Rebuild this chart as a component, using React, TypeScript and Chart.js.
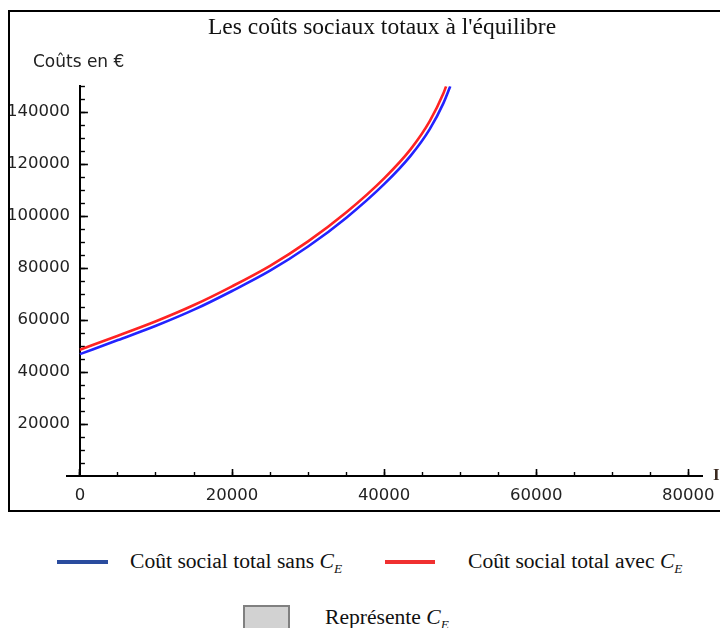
import React, { useEffect, useRef } from 'react';
import { Chart, registerables } from 'chart.js';

Chart.register(...registerables);

// ---- data ----
const TITLE = "Les coûts sociaux totaux à l'équilibre";
const Y_TITLE = 'Coûts en €';
const X_TITLE = 'I';

const sansX = [0, 5000, 10000, 15000, 20000, 25000, 30000, 35000, 40000, 43500, 46000, 47800, 48700];
const sansY = [46900, 52300, 57800, 64000, 71200, 79000, 88300, 99300, 112300, 123300, 133500, 143500, 150000];

const avecX = [0, 5000, 10000, 15000, 20000, 25000, 30000, 35000, 40000, 43500, 46000, 47800, 48150];
const avecY = [48600, 54000, 59550, 65800, 73000, 80900, 90300, 101400, 114550, 125800, 136550, 147250, 150000];

const X_MIN = -1700;
const X_MAX = 81800;
const Y_MIN = 0;
const Y_MAX = 150000;

const xMajorTicks = [0, 20000, 40000, 60000, 80000];
const xMinorTicks = [0, 5000, 10000, 15000, 20000, 25000, 30000, 35000, 40000, 45000, 50000, 55000, 60000, 65000, 70000, 75000, 80000];
const yMajorTicks = [20000, 40000, 60000, 80000, 100000, 120000, 140000];
const yMinorTicks = [5000, 10000, 15000, 20000, 25000, 30000, 35000, 40000, 45000, 50000, 55000, 60000, 65000, 70000, 75000, 80000, 85000, 90000, 95000, 100000, 105000, 110000, 115000, 120000, 125000, 130000, 135000, 140000, 145000, 150000];

const LEGEND_SANS = 'Coût social total sans';
const LEGEND_AVEC = 'Coût social total avec';
const LEGEND_CE = 'Représente';

const TICK_FONT = { family: "'DejaVu Sans', sans-serif", size: 16.5 };

// place every axis on the zero line of the other axis
const crossAxesPlugin = {
  id: 'crossAxes',
  afterLayout(chart: any) {
    const sx = chart.scales.x;
    const sy = chart.scales.y;
    const x0 = sx.getPixelForValue(0);
    const y0 = sy.getPixelForValue(0);
    ['y', 'yMinor'].forEach((id) => {
      const s = chart.scales[id];
      s.right = x0;
      if (s.left > x0) s.left = x0;
    });
    ['x', 'xMinor'].forEach((id) => {
      const s = chart.scales[id];
      const d = y0 - s.top;
      s.top += d;
      s.bottom += d;
    });
  },
  afterDraw(chart: any) {
    const ctx = chart.ctx;
    const sx = chart.scales.x;
    const sy = chart.scales.y;
    const x0 = sx.getPixelForValue(0);
    const y0 = sy.getPixelForValue(0);
    ctx.save();
    ctx.fillStyle = '#222';
    ctx.font = "17px 'DejaVu Sans', sans-serif";
    ctx.textAlign = 'left';
    ctx.textBaseline = 'middle';
    ctx.fillText(Y_TITLE, x0 - 47, chart.chartArea.top - 24);
    ctx.fillStyle = '#3a2a20';
    ctx.font = "bold 17px 'Liberation Serif', serif";
    ctx.fillText(X_TITLE, chart.chartArea.right + 11, y0);
    ctx.restore();
  },
};

const ticksFrom = (vals: number[]) => (s: any) => {
  s.ticks = vals.map((v) => ({ value: v }));
};

function ChartCanvas() {
  const ref = useRef<HTMLCanvasElement | null>(null);
  useEffect(() => {
    if (!ref.current) return;
    const chart = new Chart(ref.current, {
      type: 'line',
      data: {
        datasets: [
          {
            label: 'Coût social total sans CE',
            data: sansX.map((x, i) => ({ x, y: sansY[i] })),
            borderColor: 'rgb(35,35,255)',
            backgroundColor: 'rgb(35,35,255)',
            borderWidth: 2.6,
            pointRadius: 0,
            cubicInterpolationMode: 'monotone',
            xAxisID: 'x',
            yAxisID: 'y',
          },
          {
            label: 'Coût social total avec CE',
            data: avecX.map((x, i) => ({ x, y: avecY[i] })),
            borderColor: 'rgb(255,35,35)',
            backgroundColor: 'rgb(255,35,35)',
            borderWidth: 2.6,
            pointRadius: 0,
            cubicInterpolationMode: 'monotone',
            xAxisID: 'x',
            yAxisID: 'y',
          },
        ],
      },
      options: {
        animation: false,
        responsive: false,
        events: [],
        layout: { padding: 0 },
        plugins: {
          legend: { display: false },
          tooltip: { enabled: false },
          title: {
            display: true,
            text: TITLE,
            color: '#111',
            font: { family: "'Liberation Serif', serif", size: 23.5, weight: 'normal' },
            padding: { top: 2, bottom: 44 },
          },
        },
        scales: {
          x: {
            type: 'linear',
            position: 'bottom',
            min: X_MIN,
            max: X_MAX,
            weight: 1,
            afterBuildTicks: ticksFrom(xMajorTicks),
            afterFit: (s: any) => { s.height = 34; },
            grid: { drawOnChartArea: false, drawTicks: true, tickLength: -7, tickWidth: 1.6, tickColor: '#000' },
            border: { display: true, color: '#000', width: 2 },
            ticks: {
              padding: 17,
              color: '#222',
              font: TICK_FONT,
              maxRotation: 0,
              autoSkip: false,
              callback: (v: any) => String(v),
            },
          },
          xMinor: {
            type: 'linear',
            position: 'bottom',
            min: X_MIN,
            max: X_MAX,
            weight: 0,
            afterBuildTicks: ticksFrom(xMinorTicks),
            afterFit: (s: any) => { s.height = 0; },
            grid: { drawOnChartArea: false, drawTicks: true, tickLength: -4, tickWidth: 1.4, tickColor: '#000' },
            border: { display: false },
            ticks: { display: false },
          },
          y: {
            type: 'linear',
            position: 'left',
            min: Y_MIN,
            max: Y_MAX,
            weight: 1,
            afterBuildTicks: ticksFrom(yMajorTicks),
            afterFit: (s: any) => { s.width = 57; },
            grid: { drawOnChartArea: false, drawTicks: true, tickLength: -8, tickWidth: 1.6, tickColor: '#000' },
            border: { display: true, color: '#000', width: 2 },
            ticks: {
              padding: 18,
              color: '#222',
              font: TICK_FONT,
              autoSkip: false,
              callback: (v: any) => String(v),
            },
          },
          yMinor: {
            type: 'linear',
            position: 'left',
            min: Y_MIN,
            max: Y_MAX,
            weight: 0,
            afterBuildTicks: ticksFrom(yMinorTicks),
            afterFit: (s: any) => { s.width = 0; },
            grid: { drawOnChartArea: false, drawTicks: true, tickLength: -5, tickWidth: 1.4, tickColor: '#000' },
            border: { display: false },
            ticks: { display: false },
          },
          rightSpace: {
            type: 'linear',
            position: 'right',
            afterFit: (s: any) => { s.width = 52; },
            grid: { display: false },
            border: { display: false },
            ticks: { display: false },
          },
        },
      } as any,
      plugins: [crossAxesPlugin],
    });
    return () => chart.destroy();
  }, []);
  return <canvas ref={ref} width={744} height={498} style={{ display: 'block' }} />;
}

const CE = () => (
  <span>
    {' '}
    <i>C</i>
    <i style={{ fontSize: '0.62em', position: 'relative', top: '0.35em' }}>E</i>
  </span>
);

const legendText: React.CSSProperties = {
  position: 'absolute',
  fontFamily: "'Liberation Serif', serif",
  fontSize: 21.6,
  lineHeight: '24px',
  color: '#111',
  whiteSpace: 'nowrap',
};

export default function App() {
  return (
    <div
      style={{
        position: 'fixed',
        left: 0,
        top: 0,
        width: 720,
        height: 628,
        overflow: 'hidden',
        background: '#fff',
      }}
    >
      <div
        style={{
          position: 'absolute',
          left: 8,
          top: 10,
          width: 760,
          height: 502,
          border: '2px solid #000',
          boxSizing: 'border-box',
        }}
      />
      <div style={{ position: 'absolute', left: 10, top: 12, width: 744, height: 498 }}>
        <ChartCanvas />
      </div>

      <div style={{ position: 'absolute', left: 57, top: 560, width: 51, height: 4, background: '#2a4c9e' }} />
      <div style={{ ...legendText, left: 130, top: 549 }}>
        {LEGEND_SANS}
        <CE />
      </div>
      <div style={{ position: 'absolute', left: 385, top: 560, width: 50, height: 4, background: '#f03030' }} />
      <div style={{ ...legendText, left: 468, top: 549 }}>
        {LEGEND_AVEC}
        <CE />
      </div>

      <div
        style={{
          position: 'absolute',
          left: 243,
          top: 605,
          width: 47,
          height: 32,
          border: '2px solid #808080',
          background: '#d2d2d2',
          boxSizing: 'border-box',
        }}
      />
      <div style={{ ...legendText, left: 325, top: 605 }}>
        {LEGEND_CE}
        <CE />
      </div>
    </div>
  );
}
